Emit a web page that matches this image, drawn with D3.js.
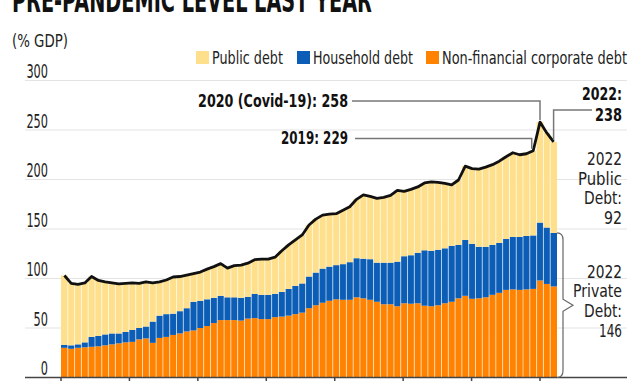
<!DOCTYPE html>
<html>
<head>
<meta charset="utf-8">
<script src="https://cdn.jsdelivr.net/npm/d3@7"></script>
<style>
  body { margin: 0; background: #fff; }
  svg { display: block; font-family: "Liberation Sans Narrow", "DejaVu Sans Condensed", sans-serif; }
</style>
</head>
<body>
<div id="chart"></div>
<script>
// Data (% of GDP), 1950-2022
const years = d3.range(1950, 2023)
const corporateDebt = [30, 29, 30, 30.5, 31, 31.5, 32.5, 33.5, 34.5, 35.5,
  36, 38.5, 39.5, 35, 40, 41, 43, 44.5, 46.5, 47.5,
  50, 52, 55, 58, 58, 58, 57.5, 59.5, 60, 59,
  59, 61, 61.5, 62.5, 64, 65.5, 70, 73, 75.5, 77.5,
  79, 78.5, 78.5, 81, 80, 78.5, 76.5, 74, 74, 72,
  75, 74.5, 75, 72.5, 72, 73, 75, 76.5, 80, 82.5,
  79.5, 80, 81, 83.5, 85.5, 88.5, 89, 88.5, 89, 89.5,
  98, 94.5, 92]
const householdDebt = [3, 3.5, 3.5, 5, 10, 10.5, 11, 11, 10, 10.5,
  12, 11.5, 12, 21.5, 22.5, 23, 21.5, 22.5, 23.5, 29,
  27.5, 27, 25.5, 24.5, 23, 23, 23, 22, 24.5, 24.5,
  24.5, 23.5, 25, 27, 28.5, 29.5, 32, 33, 34.5, 34.5,
  34.5, 36, 38, 39.5, 40, 41, 39.5, 42, 42, 45,
  47.5, 49, 51, 56, 56, 56, 55.5, 56.5, 54, 56.5,
  55.5, 52, 51, 50.5, 50.5, 51.5, 53, 53.5, 54, 54,
  58.5, 57, 54]
const publicDebt = [70, 62.5, 60.5, 60, 61, 56, 53, 51, 50, 49,
  47.5, 45, 45, 39, 34, 34.5, 37, 35, 33.5, 28.5,
  29, 30.5, 31.5, 32.5, 29.5, 32, 33, 34, 34.5, 36,
  36, 37, 41.5, 44.5, 46.5, 49, 52, 54, 54, 53,
  52, 54.5, 56, 59.5, 64.5, 63.5, 65, 66, 68, 72,
  65.5, 66.5, 66.5, 68, 69.5, 68, 65.5, 61.5, 65.5, 74.5,
  76, 78.5, 80.5, 81, 82.5, 83, 85, 83, 83, 85.5,
  101.5, 95.5, 92]
const yTicks = [0, 50, 100, 150, 200, 250, 300]
const xTicks = [1950, 1960, 1970, 1980, 1990, 2000, 2010, 2020]
const seriesKeys = ['corporate', 'household', 'public']
const legendKeys = ['public', 'household', 'corporate']
const seriesNames = ['Public debt', 'Household debt', 'Non-financial corporate debt']
const colors = { public: '#fedf8c', household: '#0b5db6', corporate: '#ff8200' }

const rows = years.map((y, i) => ({
  year: y,
  corporate: corporateDebt[i],
  household: householdDebt[i],
  public: publicDebt[i],
  total: corporateDebt[i] + householdDebt[i] + publicDebt[i],
  priv: corporateDebt[i] + householdDebt[i]
}))

const width = 640
const height = 381

const svg = d3.select('#chart')
  .append('svg')
  .attr('width', width)
  .attr('height', height)

// scales
const x = d3.scaleBand()
  .domain(years)
  .range([61, 557])

const y = d3.scaleLinear()
  .domain([0, 300])
  .range([377.5, 80.5])

const xTick = d3.scaleLinear()
  .domain([1950, 2020])
  .range([x(1950), x(2020) + x.step() / 2])

// text helper: squeeze horizontally to the width of the original narrow font
function label(g, tx, ty, str, w, opts = {}) {
  const t = g.append('text')
    .attr('text-anchor', opts.anchor || 'start')
    .attr('font-size', opts.size || 17)
    .attr('font-weight', opts.bold ? 'bold' : 'normal')
    .attr('fill', opts.fill || '#222')
    .text(str)
  const natural = t.node().getComputedTextLength()
  const sx = Math.min(1, w / natural)
  t.attr('transform', `translate(${tx}, ${ty}) scale(${sx}, 1)`)
  return t
}

// title (cut at top) and unit
label(svg, 12, 12, 'PRE-PANDEMIC LEVEL LAST YEAR', 360, { size: 34, bold: true, fill: '#111' })
label(svg, 12, 47, '(% GDP)', 56, { size: 17 })

// legend
const legendX = [196, 297, 426]
const legendW = [71, 100, 185]
const legend = svg.append('g')
  .selectAll('g')
  .data(legendKeys)
  .join('g')
  .attr('transform', (d, i) => `translate(${legendX[i]}, 51)`)
legend.append('rect')
  .attr('width', 13)
  .attr('height', 13)
  .attr('fill', d => colors[d])
legend.each(function (d, i) {
  label(d3.select(this), 16, 12.5, seriesNames[i], legendW[i], { size: 17 })
})

// grid
svg.append('g')
  .selectAll('line')
  .data(yTicks.filter(d => d > 0))
  .join('line')
  .attr('x1', 25)
  .attr('x2', 627)
  .attr('y1', d => y(d))
  .attr('y2', d => y(d))
  .attr('stroke', '#e4e4e4')
  .attr('stroke-width', 1.2)

const yLabels = svg.append('g')
yTicks.forEach(d => label(yLabels, 48, y(d) - 2.5, String(d), String(d).length * 7.2, { anchor: 'end', size: 19 }))

// stacked bars
const stacked = d3.stack().keys(seriesKeys)(rows)

svg.append('g')
  .selectAll('g')
  .data(stacked)
  .join('g')
  .attr('fill', d => colors[d.key])
  .selectAll('rect')
  .data(d => d)
  .join('rect')
  .attr('x', d => x(d.data.year))
  .attr('width', x.step())
  .attr('y', d => y(d[1]))
  .attr('height', d => y(d[0]) - y(d[1]))

// thin light separators between bars
svg.append('g')
  .selectAll('line')
  .data(rows.slice(1))
  .join('line')
  .attr('x1', d => x(d.year))
  .attr('x2', d => x(d.year))
  .attr('y1', d => y(Math.min(d.total, rows[d.year - 1950 - 1].total)))
  .attr('y2', y(0))
  .attr('stroke', '#fff')
  .attr('stroke-opacity', 0.6)
  .attr('stroke-width', 1)

// total line
const line = d3.line()
  .x(d => x(d.year) + x.bandwidth() / 2)
  .y(d => y(d.total))

svg.append('path')
  .datum(rows)
  .attr('d', line)
  .attr('fill', 'none')
  .attr('stroke', '#111')
  .attr('stroke-width', 2.8)
  .attr('stroke-linejoin', 'round')

// baseline and ticks
svg.append('line')
  .attr('x1', 25)
  .attr('x2', 627)
  .attr('y1', y(0))
  .attr('y2', y(0))
  .attr('stroke', '#444')
  .attr('stroke-width', 1.5)

svg.append('g')
  .selectAll('line')
  .data(xTicks)
  .join('line')
  .attr('x1', d => xTick(d))
  .attr('x2', d => xTick(d))
  .attr('y1', y(0))
  .attr('y2', y(0) + 8)
  .attr('stroke', '#444')
  .attr('stroke-width', 1.5)

// annotations
const cx = yr => x(yr) + x.bandwidth() / 2
const totalOf = yr => rows[yr - 1950].total
const privOf = yr => rows[yr - 1950].priv

const ann = svg.append('g')
  .attr('fill', 'none')
  .attr('stroke', '#777')
  .attr('stroke-width', 1.5)

ann.append('path')
  .attr('d', `M352,101H${cx(2020)}V${y(totalOf(2020)) - 2}`)
ann.append('path')
  .attr('d', `M355,138.5H${cx(2019) - 1.5}V${y(totalOf(2019)) - 2}`)
ann.append('path')
  .attr('d', `M592,110H${cx(2022)}V${y(totalOf(2022)) - 2}`)

// brace for private debt
const bx = x(2022) + x.step()
const bt = y(privOf(2022))
const bb = y(0)
const bm = (bt + bb) / 2
svg.append('path')
  .attr('d', `M${bx},${bt} Q${bx + 6},${bt} ${bx + 6},${bt + 7} V${bm - 6} L${bx + 16},${bm} L${bx + 6},${bm + 6} V${bb - 7} Q${bx + 6},${bb} ${bx},${bb}`)
  .attr('fill', 'none')
  .attr('stroke', '#666')
  .attr('stroke-width', 1.2)

const notes = svg.append('g')
label(notes, 348, 107, '2020 (Covid-19): 258', 150, { anchor: 'end', bold: true, fill: '#111' })
label(notes, 348, 143.5, '2019: 229', 67, { anchor: 'end', bold: true, fill: '#111' })
label(notes, 622, 99.5, '2022:', 40, { anchor: 'end', bold: true, fill: '#111', size: 18 })
label(notes, 622, 120.5, '238', 27, { anchor: 'end', bold: true, fill: '#111', size: 18 })

const publicLines = ['2022', 'Public', 'Debt:', '92']
const publicW = [35, 44, 38, 18]
const privateLines = ['2022', 'Private', 'Debt:', '146']
const privateW = [35, 49, 38, 23]
publicLines.forEach((t, i) => label(notes, 622, 165 + i * 19.7, t, publicW[i], { anchor: 'end', size: 17.5 }))
privateLines.forEach((t, i) => label(notes, 622, 277.5 + i * 19.7, t, privateW[i], { anchor: 'end', size: 17.5 }))
</script>
</body>
</html>
